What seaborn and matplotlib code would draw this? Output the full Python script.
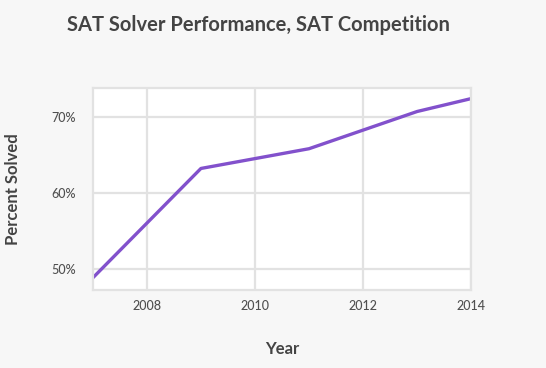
import matplotlib
matplotlib.use("Agg")
import matplotlib.pyplot as plt
import seaborn as sns
import pandas as pd
from matplotlib.ticker import FuncFormatter

years = [2007, 2009, 2011, 2013, 2014]
percent_solved = [48.8, 63.2, 65.8, 70.7, 72.4]
x_ticks = [2008, 2010, 2012, 2014]
y_ticks = [50, 60, 70]

df = pd.DataFrame({"Year": years, "Percent Solved": percent_solved})

sns.set_theme(style="whitegrid")
plt.rcParams["font.family"] = ["Lato", "DejaVu Sans"]

fig = plt.figure(figsize=(5.46, 3.68), dpi=100, facecolor="#f7f7f7")
ax = fig.add_axes([0.170, 0.212, 0.693, 0.549])
ax.set_facecolor("white")

sns.lineplot(data=df, x="Year", y="Percent Solved", ax=ax, color="#8251cc", linewidth=2.4)

ax.set_xlim(2007, 2014)
ax.set_ylim(47.2, 73.8)
ax.set_xticks(x_ticks)
ax.set_yticks(y_ticks)
ax.yaxis.set_major_formatter(FuncFormatter(lambda v, p: f"{int(v)}%"))
ax.grid(True, color="#e2e2e2", linewidth=1.6)
for s in ax.spines.values():
    s.set_color("#e2e2e2")
    s.set_linewidth(1.6)
ax.tick_params(axis="both", length=0, labelsize=9, labelcolor="#505050")
for lab in ax.get_xticklabels() + ax.get_yticklabels():
    lab.set_fontweight("medium")
ax.tick_params(axis="y", pad=12)
ax.tick_params(axis="x", pad=7)

ax.set_xlabel("Year", fontsize=12, fontweight="bold", color="#444444", labelpad=21)
ax.set_ylabel("Percent Solved", fontsize=12, fontweight="bold", color="#444444", labelpad=22)
fig.suptitle("SAT Solver Performance, SAT Competition", x=0.474, y=0.958, fontsize=14.5,
             fontweight="bold", color="#444444")

fig.savefig("out.png", dpi=100, facecolor=fig.get_facecolor())
